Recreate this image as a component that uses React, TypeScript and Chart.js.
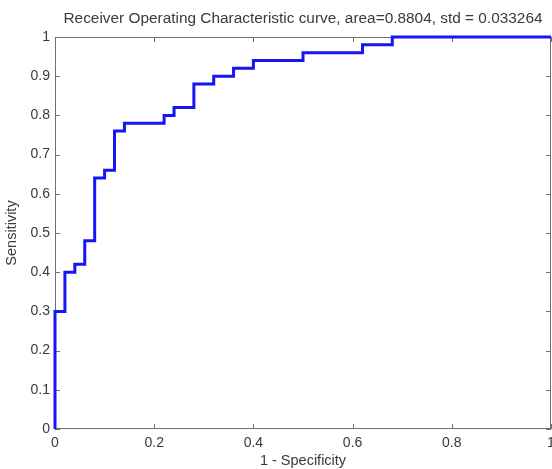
import React, { useEffect, useRef } from "react";
import { Chart, registerables } from "chart.js";

Chart.register(...registerables);

const TITLE = "Receiver Operating Characteristic curve, area=0.8804, std = 0.033264";
const X_LABEL = "1 - Specificity";
const Y_LABEL = "Sensitivity";

// ROC vertices (false positive rate, true positive rate)
const fpr = [0, 0, 0.02, 0.04, 0.06, 0.08, 0.1, 0.12, 0.14, 0.22, 0.24, 0.28, 0.32, 0.36, 0.4, 0.5, 0.62, 0.68, 1];
const tpr = [0, 0.3, 0.4, 0.42, 0.48, 0.64, 0.66, 0.76, 0.78, 0.8, 0.82, 0.88, 0.9, 0.92, 0.94, 0.96, 0.98, 1, 1];

const xTicks = [0, 0.2, 0.4, 0.6, 0.8, 1];
const yTicks = [0, 0.1, 0.2, 0.3, 0.4, 0.5, 0.6, 0.7, 0.8, 0.9, 1];

const FONT = "'Liberation Sans', Arial, sans-serif";
const AXIS_COLOR = "#707070";
const TEXT_COLOR = "#3a3a3a";

const boxPlugin = {
  id: "matlabBox",
  beforeDatasetsDraw(chart: any) {
    const { ctx, chartArea } = chart;
    const { left, right, top, bottom } = chartArea;
    const xs = chart.scales.x;
    const ys = chart.scales.y;
    ctx.save();
    ctx.strokeStyle = AXIS_COLOR;
    ctx.lineWidth = 1;
    ctx.strokeRect(left + 0.5, top + 0.5, right - left - 1, bottom - top - 1);
    const tl = 5;
    ctx.beginPath();
    xTicks.forEach((v) => {
      const px = Math.round(xs.getPixelForValue(v)) + 0.5;
      ctx.moveTo(px, bottom);
      ctx.lineTo(px, bottom - tl);
      ctx.moveTo(px, top);
      ctx.lineTo(px, top + tl);
    });
    yTicks.forEach((v) => {
      const py = Math.round(ys.getPixelForValue(v)) + 0.5;
      ctx.moveTo(left, py);
      ctx.lineTo(left + tl, py);
      ctx.moveTo(right, py);
      ctx.lineTo(right - tl, py);
    });
    ctx.stroke();
    ctx.restore();
  },
  afterDraw(chart: any) {
    const { ctx, chartArea } = chart;
    ctx.save();
    ctx.fillStyle = TEXT_COLOR;
    ctx.font = `15.4px ${FONT}`;
    ctx.textAlign = "center";
    ctx.textBaseline = "middle";
    ctx.fillText(TITLE, (chartArea.left + chartArea.right) / 2, 19);
    ctx.restore();
  },
};

export default function App() {
  const ref = useRef<HTMLCanvasElement>(null);
  useEffect(() => {
    if (!ref.current) return;
    const points = fpr.map((x, i) => ({ x, y: tpr[i] }));
    const chart = new Chart(ref.current, {
      type: "scatter",
      data: {
        datasets: [
          {
            data: points,
            showLine: true,
            stepped: "before",
            borderColor: "#1515f5",
            borderWidth: 3,
            pointRadius: 0,
            fill: false,
            clip: false as any,
          },
        ],
      },
      plugins: [boxPlugin],
      options: {
        animation: false,
        responsive: false,
        events: [],
        layout: { padding: { top: 37, left: 0, right: 1, bottom: 0 } },
        plugins: { legend: { display: false }, tooltip: { enabled: false }, title: { display: false } },
        scales: {
          x: {
            type: "linear",
            min: 0,
            max: 1,
            afterFit: (s: any) => {
              s.height = 40;
              s.paddingLeft = 0;
              s.paddingRight = 0;
            },
            afterBuildTicks: (s: any) => {
              s.ticks = xTicks.map((v) => ({ value: v }));
            },
            grid: { display: false, drawTicks: false },
            border: { display: false },
            ticks: {
              padding: 6,
              color: TEXT_COLOR,
              font: { family: FONT, size: 14 },
              maxRotation: 0,
              autoSkip: false,
              callback: (v: any) => String(Number(Number(v).toFixed(1))),
            },
            title: {
              display: true,
              text: X_LABEL,
              color: TEXT_COLOR,
              font: { family: FONT, size: 14.5 },
              padding: { top: 0, bottom: -1 },
            },
          },
          y: {
            type: "linear",
            min: 0,
            max: 1,
            afterFit: (s: any) => {
              s.width = 55;
              s.paddingTop = 0;
              s.paddingBottom = 0;
            },
            afterBuildTicks: (s: any) => {
              s.ticks = yTicks.map((v) => ({ value: v }));
            },
            grid: { display: false, drawTicks: false },
            border: { display: false },
            ticks: {
              padding: 5,
              color: TEXT_COLOR,
              font: { family: FONT, size: 14 },
              autoSkip: false,
              callback: (v: any) => String(Number(Number(v).toFixed(1))),
            },
            title: {
              display: true,
              text: Y_LABEL,
              color: TEXT_COLOR,
              font: { family: FONT, size: 14.5 },
              padding: { top: 3, bottom: 0 },
            },
          },
        },
      },
    });
    return () => chart.destroy();
  }, []);
  return (
    <div style={{ position: "absolute", left: 0, top: 0, width: 552, height: 469, background: "#fff" }}>
      <canvas ref={ref} width={552} height={469} style={{ display: "block" }} />
    </div>
  );
}
